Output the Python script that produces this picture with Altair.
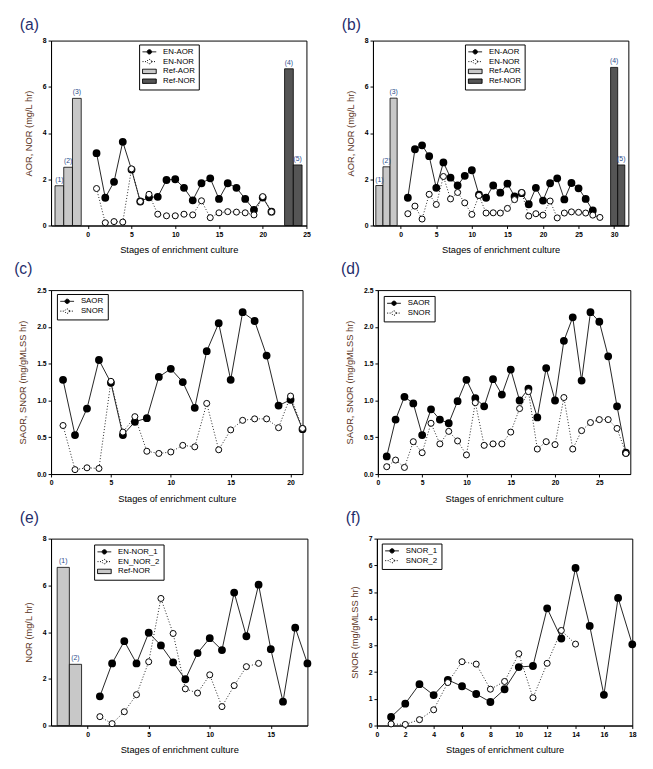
import altair as alt
import pandas as pd

# ---------------- data ----------------
# (a)
a_x = list(range(1, 22))
a_en_aor = [3.13, 1.20, 1.89, 3.62, 2.42, 1.04, 1.22, 1.24, 1.97, 2.00, 1.63, 1.09, 1.83, 2.04, 1.15, 1.83, 1.63, 1.15, 0.68, 1.21, 0.60]
a_en_nor = [1.60, 0.12, 0.17, 0.15, 2.45, 1.04, 1.35, 0.49, 0.42, 0.42, 0.49, 0.46, 1.07, 0.34, 0.55, 0.60, 0.58, 0.55, 0.46, 1.25, 0.59]
a_ref_aor_x = [-3.25, -2.25, -1.25]
a_ref_aor = [1.72, 2.52, 5.50]
a_ref_aor_lab = ["(1)", "(2)", "(3)"]
a_ref_nor_x = [23.0, 24.0]
a_ref_nor = [6.78, 2.62]
a_ref_nor_lab = ["(4)", "(5)"]

# (b)
b_x_aor = list(range(1, 28))
b_en_aor = [1.20, 3.30, 3.47, 3.00, 1.63, 2.73, 2.07, 1.73, 2.15, 2.39, 1.33, 1.20, 1.73, 1.42, 1.81, 1.26, 1.40, 0.92, 1.63, 1.08, 1.83, 2.04, 1.13, 1.84, 1.61, 1.15, 0.65]
b_x_nor = list(range(1, 29))
b_en_nor = [0.51, 0.84, 0.28, 1.35, 0.91, 2.12, 1.15, 1.43, 0.98, 0.48, 1.30, 0.54, 0.55, 0.54, 0.74, 1.12, 1.43, 0.41, 0.51, 0.45, 1.06, 0.33, 0.54, 0.59, 0.57, 0.54, 0.45, 0.35]
b_ref_aor_x = [-3.0, -2.0, -1.0]
b_ref_aor = [1.73, 2.54, 5.51]
b_ref_aor_lab = ["(1)", "(2)", "(3)"]
b_ref_nor_x = [30.0, 31.0]
b_ref_nor = [6.84, 2.62]
b_ref_nor_lab = ["(4)", "(5)"]

# (c)
c_x = list(range(1, 22))
c_saor = [1.28, 0.53, 0.89, 1.55, 1.24, 0.53, 0.71, 0.76, 1.32, 1.43, 1.25, 0.90, 1.67, 2.05, 1.28, 2.20, 2.08, 1.61, 0.93, 1.01, 0.61]
c_snor = [0.66, 0.06, 0.085, 0.076, 1.26, 0.57, 0.78, 0.31, 0.28, 0.30, 0.39, 0.37, 0.96, 0.33, 0.60, 0.73, 0.75, 0.75, 0.63, 1.06, 0.62]

# (d)
d_x = list(range(1, 29))
d_saor = [0.24, 0.74, 1.05, 0.96, 0.53, 0.88, 0.74, 0.69, 0.99, 1.28, 1.03, 0.92, 1.29, 1.08, 1.42, 1.00, 1.16, 0.77, 1.44, 1.00, 1.81, 2.13, 1.27, 2.20, 2.07, 1.60, 0.92, 0.29]
d_snor = [0.10, 0.19, 0.09, 0.44, 0.29, 0.69, 0.41, 0.58, 0.45, 0.26, 0.97, 0.39, 0.41, 0.41, 0.57, 0.89, 1.12, 0.34, 0.44, 0.40, 1.04, 0.34, 0.59, 0.70, 0.74, 0.74, 0.62, 0.28]

# (e)
e_x1 = list(range(1, 19))
e_en_nor_1 = [1.25, 2.66, 3.61, 2.66, 3.97, 3.43, 2.70, 1.98, 3.10, 3.74, 3.23, 5.69, 3.82, 6.03, 3.27, 1.02, 4.19, 2.66]
e_x2 = list(range(1, 15))
e_en_nor_2 = [0.38, 0.08, 0.59, 1.32, 2.73, 5.44, 3.94, 1.57, 1.39, 2.17, 0.81, 1.71, 2.52, 2.66]
e_ref_nor_x = [-2.0, -1.0]
e_ref_nor = [6.77, 2.62]
e_ref_nor_lab = ["(1)", "(2)"]

# (f)
f_x1 = list(range(1, 19))
f_snor_1 = [0.32, 0.82, 1.55, 1.14, 1.71, 1.47, 1.18, 0.88, 1.36, 2.19, 2.23, 4.39, 3.26, 5.90, 3.73, 1.15, 4.78, 3.04]
f_x2 = list(range(1, 15))
f_snor_2 = [0.06, 0.04, 0.22, 0.59, 1.61, 2.39, 2.30, 1.36, 1.65, 2.69, 1.04, 2.33, 3.56, 3.05]

# ---------------- styling ----------------
FONT = "Liberation Sans"
TITLE_COLOR = "#1f2d6b"
YTITLE_COLOR = "#5a3322"
LABEL_COLOR = "#2b4c8c"
GRAY = "#c8c8c8"
DARK = "#555555"
XTITLE = "Stages of enrichment culture"

# legend symbols: drawn at r = sqrt(49)/2 = 3.5 px per unit
LINE_SYM = "M-2,0H-0.64M0.64,0H2M0.64,0A0.64,0.64,0,1,1,-0.64,0A0.64,0.64,0,1,1,0.64,0"
BOX_SYM = "M-2,-0.64H2V0.64H-2Z"


def panel(tag, w, h, xdom, xticks, ydom, yticks, yfmt, ytitle,
          solid, dotted, bars, legend_items, legend_xy, toff):
    xs = alt.Scale(domain=xdom, nice=False, zero=False)
    ys = alt.Scale(domain=ydom, nice=False, zero=False)
    xax = alt.Axis(values=xticks, title=XTITLE, labelFlush=False, grid=False, format="d")
    yax = alt.Axis(values=yticks, title=ytitle, grid=False, format=yfmt, titleColor=YTITLE_COLOR,
                   titlePadding=9)
    layers = []
    for (bx, bv, blab, fill) in bars:
        df = pd.DataFrame({"xc": bx, "y": bv, "lab": blab})
        base = alt.Chart(df).transform_calculate(x="datum.xc - 0.5", x2="datum.xc + 0.5")
        layers.append(base.mark_bar(fill=fill, stroke="black", strokeWidth=0.8).encode(
            x=alt.X("x:Q", scale=xs, axis=xax), x2="x2:Q",
            y=alt.Y("y:Q", scale=ys, axis=yax), y2=alt.datum(0)))
        layers.append(base.mark_text(fontSize=7, font=FONT, color=LABEL_COLOR, dy=-6).encode(
            x=alt.X("xc:Q", scale=xs, axis=xax),
            y=alt.Y("y:Q", scale=ys, axis=yax), text="lab:N"))
    sdf = pd.DataFrame({"x": solid[0], "y": solid[1]})
    ddf = pd.DataFrame({"x": dotted[0], "y": dotted[1]})
    enc = dict(x=alt.X("x:Q", scale=xs, axis=xax), y=alt.Y("y:Q", scale=ys, axis=yax))
    layers.append(alt.Chart(sdf).mark_line(color="#222222", strokeWidth=1).encode(**enc))
    layers.append(alt.Chart(ddf).mark_line(color="#222222", strokeWidth=1, strokeDash=[1, 2]).encode(**enc))
    layers.append(alt.Chart(sdf).mark_point(filled=True, fill="black", stroke="black", size=36, opacity=1).encode(**enc))
    layers.append(alt.Chart(ddf).mark_point(filled=True, fill="white", stroke="black", strokeWidth=1, size=38, opacity=1).encode(**enc))
    # legend layer (draws nothing itself)
    names = [it[0] for it in legend_items]
    fills = [it[1] for it in legend_items]
    shapes = [it[2] for it in legend_items]
    dashes = [it[3] for it in legend_items]
    strokes = ["black" for _ in legend_items]
    leg = alt.Legend(title=None, orient="none", legendX=legend_xy[0], legendY=legend_xy[1],
                     strokeColor="black", fillColor="white", padding=3.5, labelFont=FONT,
                     labelFontSize=8, labelColor="black", symbolSize=49, symbolOffset=3,
                     symbolStrokeWidth=1, symbolOpacity=1, rowPadding=0, labelOffset=10,
                     cornerRadius=0)
    ldf = pd.DataFrame({"s": names})
    layers.append(alt.Chart(ldf).mark_point(filled=True, strokeWidth=1).encode(
        fill=alt.Fill("s:N", scale=alt.Scale(domain=names, range=fills), legend=leg),
        stroke=alt.Stroke("s:N", scale=alt.Scale(domain=names, range=strokes), legend=leg),
        shape=alt.Shape("s:N", scale=alt.Scale(domain=names, range=shapes), legend=leg),
        strokeDash=alt.StrokeDash("s:N", scale=alt.Scale(domain=names, range=dashes), legend=leg),
    ).transform_filter("false"))
    return alt.layer(*layers).properties(
        width=w, height=h,
        title=alt.TitleParams(text=tag, anchor="start", frame="bounds", fontSize=16, font=FONT,
                              fontWeight="normal", color=TITLE_COLOR, offset=toff, dx=-4)
    )


SOLID = [1, 0]
DOT = [1, 1.5]

pa = panel("(a)", 261, 189, [-4.2, 25], [0, 5, 10, 15, 20, 25], [0, 8], [0, 2, 4, 6, 8], "d",
           "AOR, NOR (mg/L hr)", (a_x, a_en_aor), (a_x, a_en_nor),
           [(a_ref_aor_x, a_ref_aor, a_ref_aor_lab, GRAY), (a_ref_nor_x, a_ref_nor, a_ref_nor_lab, DARK)],
           [("EN-AOR", "black", LINE_SYM, SOLID), ("EN-NOR", "white", LINE_SYM, DOT),
            ("Ref-AOR", GRAY, BOX_SYM, SOLID), ("Ref-NOR", DARK, BOX_SYM, SOLID)], (90, 4), 4)
pb = panel("(b)", 261, 189, [-3.9, 32], [0, 5, 10, 15, 20, 25, 30], [0, 8], [0, 2, 4, 6, 8], "d",
           "AOR, NOR (mg/L hr)", (b_x_aor, b_en_aor), (b_x_nor, b_en_nor),
           [(b_ref_aor_x, b_ref_aor, b_ref_aor_lab, GRAY), (b_ref_nor_x, b_ref_nor, b_ref_nor_lab, DARK)],
           [("EN-AOR", "black", LINE_SYM, SOLID), ("EN-NOR", "white", LINE_SYM, DOT),
            ("Ref-AOR", GRAY, BOX_SYM, SOLID), ("Ref-NOR", DARK, BOX_SYM, SOLID)], (94, 4), 4)
pc = panel("(c)", 257, 188, [0, 21], [0, 5, 10, 15, 20], [0, 2.5], [0, 0.5, 1.0, 1.5, 2.0, 2.5], ".1f",
           "SAOR, SNOR (mg/gMLSS hr)", (c_x, c_saor), (c_x, c_snor), [],
           [("SAOR", "black", LINE_SYM, SOLID), ("SNOR", "white", LINE_SYM, DOT)], (6, 4), 9)
pd_ = panel("(d)", 258, 188, [0, 28.5], [0, 5, 10, 15, 20, 25], [0, 2.5], [0, 0.5, 1.0, 1.5, 2.0, 2.5], ".1f",
            "SAOR, SNOR (mg/gMLSS hr)", (d_x, d_saor), (d_x, d_snor), [],
            [("SAOR", "black", LINE_SYM, SOLID), ("SNOR", "white", LINE_SYM, DOT)], (6, 6), 9)
pe = panel("(e)", 262, 191, [-3, 18], [0, 5, 10, 15], [0, 8], [0, 2, 4, 6, 8], "d",
           "NOR (mg/L hr)", (e_x1, e_en_nor_1), (e_x2, e_en_nor_2),
           [(e_ref_nor_x, e_ref_nor, e_ref_nor_lab, GRAY)],
           [("EN-NOR_1", "black", LINE_SYM, SOLID), ("EN_NOR_2", "white", LINE_SYM, DOT),
            ("Ref-NOR", GRAY, BOX_SYM, SOLID)], (44, 6), 9)
pf = panel("(f)", 261, 191, [0, 18], list(range(0, 19, 2)), [0, 7], list(range(0, 8)), "d",
           "SNOR (mg/gMLSS hr)", (f_x1, f_snor_1), (f_x2, f_snor_2), [],
           [("SNOR_1", "black", LINE_SYM, SOLID), ("SNOR_2", "white", LINE_SYM, DOT)], (5, 5), 9)

IND = dict(fill="independent", stroke="independent", shape="independent", strokeDash="independent")


def row(l, r):
    return alt.hconcat(l, r, spacing=30).resolve_scale(**IND).resolve_legend(**IND)


chart = alt.vconcat(row(pa, pb), row(pc, pd_), row(pe, pf), spacing=6).resolve_scale(**IND).resolve_legend(
    **IND).properties(
    padding={"left": 5, "top": 0, "right": 5, "bottom": 0}
).configure_view(stroke="black", strokeWidth=1).configure_axis(
    labelFont=FONT, labelFontSize=7, labelFontWeight="bold", labelColor="black",
    tickColor="black", tickSize=3, domainColor="black", labelPadding=2,
    titleFont=FONT, titleFontSize=9.5, titleFontWeight="normal", titleColor="black"
).configure_axisX(titlePadding=8)

chart.save("out.html", embed_options={"renderer": "svg", "actions": False})
